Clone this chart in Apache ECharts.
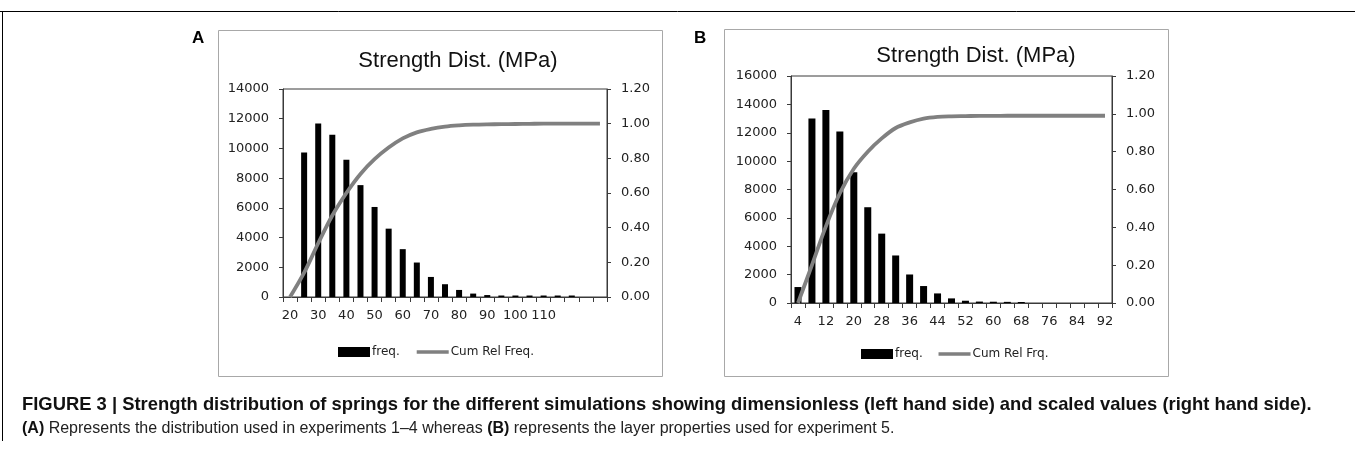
<!DOCTYPE html>
<html>
<head>
<meta charset="utf-8">
<script src="https://cdn.jsdelivr.net/npm/echarts@6/dist/echarts.min.js"></script>
<style>
html,body{margin:0;padding:0;background:#fff;}
#c{width:1355px;height:461px;}
</style>
</head>
<body>
<div id="c"></div>
<script>
// ---- data ----
const catsA = ['20','25','30','35','40','45','50','55','60','65','70','75','80','85','90','95','100','105','110','115','','',''];
const freqA = [0, 9730, 11670, 10925, 9240, 7530, 6060, 4600, 3220, 2320, 1350, 860, 475, 230, 130, 100, 100, 100, 100, 100, 100, 0, 0];
const cumA  = [0, 0.14, 0.31, 0.47, 0.60, 0.71, 0.795, 0.862, 0.915, 0.95, 0.97, 0.983, 0.99, 0.994, 0.996, 0.997, 0.998, 0.999, 1, 1, 1, 1, 1];

const catsB = ['4','8','12','16','20','24','28','32','36','40','44','48','52','56','60','64','68','72','76','80','84','88','92'];
const freqB = [1125, 13000, 13610, 12090, 9210, 6750, 4890, 3350, 2010, 1195, 675, 325, 160, 100, 90, 80, 70, 0, 0, 0, 0, 0, 0];
const cumB  = [0, 0.2, 0.405, 0.58, 0.71, 0.80, 0.87, 0.925, 0.955, 0.975, 0.984, 0.987, 0.988, 0.989, 0.989, 0.99, 0.99, 0.99, 0.99, 0.99, 0.99, 0.99, 0.99];

const titleText = 'Strength Dist. (MPa)';
const legendA = ['freq.', 'Cum Rel Freq.'];
const legendB = ['freq. ', 'Cum Rel Frq.'];
const caption1 = 'FIGURE 3 | Strength distribution of springs for the different simulations showing dimensionless (left hand side) and scaled values (right hand side).';
const caption2 = ['(A)', ' Represents the distribution used in experiments 1–4 whereas ', '(B)', ' represents the layer properties used for experiment 5.'];

// ---- chart ----
const chart = echarts.init(document.getElementById('c'), null, {renderer: 'canvas'});
const AX = '#3a3a3a';
const LBL = {color: '#222', fontFamily: 'DejaVu Sans', fontSize: 13};
const LINE_ICON = 'path://M0,0 L0.01,0 L0.01,0.01 Z M0,3.3 L32,3.3 L32,6.7 L0,6.7 Z M31.99,9.99 L32,9.99 L32,10 Z';

function xAxis(grid, cats) {
  return {
    type: 'category', gridIndex: grid, data: cats, boundaryGap: true,
    axisLine: {lineStyle: {color: AX, width: 1}},
    axisTick: {show: true, length: 5, interval: 0, lineStyle: {color: AX}},
    axisLabel: Object.assign({interval: 1, margin: 12}, LBL)
  };
}
function yLeft(grid, max) {
  return {
    type: 'value', gridIndex: grid, min: 0, max: max, interval: 2000, position: 'left',
    axisLine: {show: true, lineStyle: {color: AX}},
    axisTick: {show: true, length: 4, lineStyle: {color: AX}},
    splitLine: {show: false},
    axisLabel: Object.assign({margin: 14, formatter: v => String(v)}, LBL)
  };
}
function yRight(grid) {
  return {
    type: 'value', gridIndex: grid, min: 0, max: 1.2, interval: 0.2, position: 'right',
    axisLine: {show: true, lineStyle: {color: AX}},
    axisTick: {show: true, length: 4, lineStyle: {color: AX}},
    splitLine: {show: false},
    axisLabel: Object.assign({margin: 14, formatter: v => v.toFixed(2)}, LBL)
  };
}
function legendStyle() {
  return {fontFamily: 'DejaVu Sans', fontSize: 12, color: '#222', padding: [0,0,0,-3]};
}

const option = {
  animation: false,
  backgroundColor: '#fff',
  title: [
    {text: titleText, left: 453, top: 45, textAlign: 'center',
     textStyle: {fontFamily: 'Liberation Sans', fontSize: 22, fontWeight: 'normal', color: '#111'}},
    {text: titleText, left: 971, top: 40, textAlign: 'center',
     textStyle: {fontFamily: 'Liberation Sans', fontSize: 22, fontWeight: 'normal', color: '#111'}}
  ],
  legend: [
    {left: 338, top: 346, padding: 0, itemWidth: 32, itemHeight: 10, itemGap: 17,
     data: [{name: legendA[0], icon: 'rect'}, {name: legendA[1], icon: LINE_ICON}],
     textStyle: legendStyle()},
    {left: 861, top: 348, padding: 0, itemWidth: 32, itemHeight: 10, itemGap: 12,
     data: [{name: legendB[0], icon: 'rect'}, {name: legendB[1], icon: LINE_ICON}],
     textStyle: legendStyle()}
  ],
  grid: [
    {left: 283, top: 89, width: 324, height: 208, show: true, borderColor: AX, borderWidth: 1, backgroundColor: 'transparent'},
    {left: 791, top: 76, width: 321, height: 227, show: true, borderColor: AX, borderWidth: 1, backgroundColor: 'transparent'}
  ],
  xAxis: [xAxis(0, catsA), xAxis(1, catsB)],
  yAxis: [yLeft(0, 14000), yRight(0), yLeft(1, 16000), yRight(1)],
  series: [
    {name: legendA[0], type: 'bar', xAxisIndex: 0, yAxisIndex: 0, data: freqA, barWidth: 6,
     itemStyle: {color: '#000'}, z: 2},
    {name: legendA[1], type: 'line', xAxisIndex: 0, yAxisIndex: 1, data: cumA, smooth: 0.35,
     symbol: 'none', lineStyle: {color: '#808080', width: 3.8}, itemStyle: {color: '#808080'}, z: 3},
    {name: legendB[0], type: 'bar', xAxisIndex: 1, yAxisIndex: 2, data: freqB, barWidth: 7,
     itemStyle: {color: '#000'}, z: 2},
    {name: legendB[1], type: 'line', xAxisIndex: 1, yAxisIndex: 3, data: cumB, smooth: 0.35,
     symbol: 'none', lineStyle: {color: '#808080', width: 3.8}, itemStyle: {color: '#808080'}, z: 3}
  ],
  graphic: [
    {type: 'line', shape: {x1: 0, y1: 11.5, x2: 1355, y2: 11.5}, style: {stroke: '#000', lineWidth: 1}, silent: true},
    {type: 'line', shape: {x1: 2.5, y1: 11, x2: 2.5, y2: 441}, style: {stroke: '#000', lineWidth: 1}, silent: true},
    {type: 'rect', shape: {x: 218.5, y: 30.5, width: 444, height: 346}, style: {fill: 'none', stroke: '#a8a8a8', lineWidth: 1}, silent: true, z: -1},
    {type: 'rect', shape: {x: 724.5, y: 29.5, width: 444, height: 347}, style: {fill: 'none', stroke: '#a8a8a8', lineWidth: 1}, silent: true, z: -1},
    {type: 'text', left: 192, top: 30, style: {text: 'A', font: 'bold 17px "Liberation Sans"', fill: '#000'}},
    {type: 'text', left: 694, top: 30, style: {text: 'B', font: 'bold 17px "Liberation Sans"', fill: '#000'}},
    {type: 'text', left: 22, top: 396, style: {text: caption1, font: 'bold 18.4px "Liberation Sans"', fill: '#111'}},
    {type: 'text', left: 22, top: 421, style: {
      text: '{b|' + caption2[0] + '}{n|' + caption2[1] + '}{b|' + caption2[2] + '}{n|' + caption2[3] + '}',
      rich: {
        b: {font: 'bold 16px "Liberation Sans"', fill: '#111'},
        n: {font: '16px "Liberation Sans"', fill: '#222'}
      }
    }}
  ]
};
chart.setOption(option);
</script>
</body>
</html>
